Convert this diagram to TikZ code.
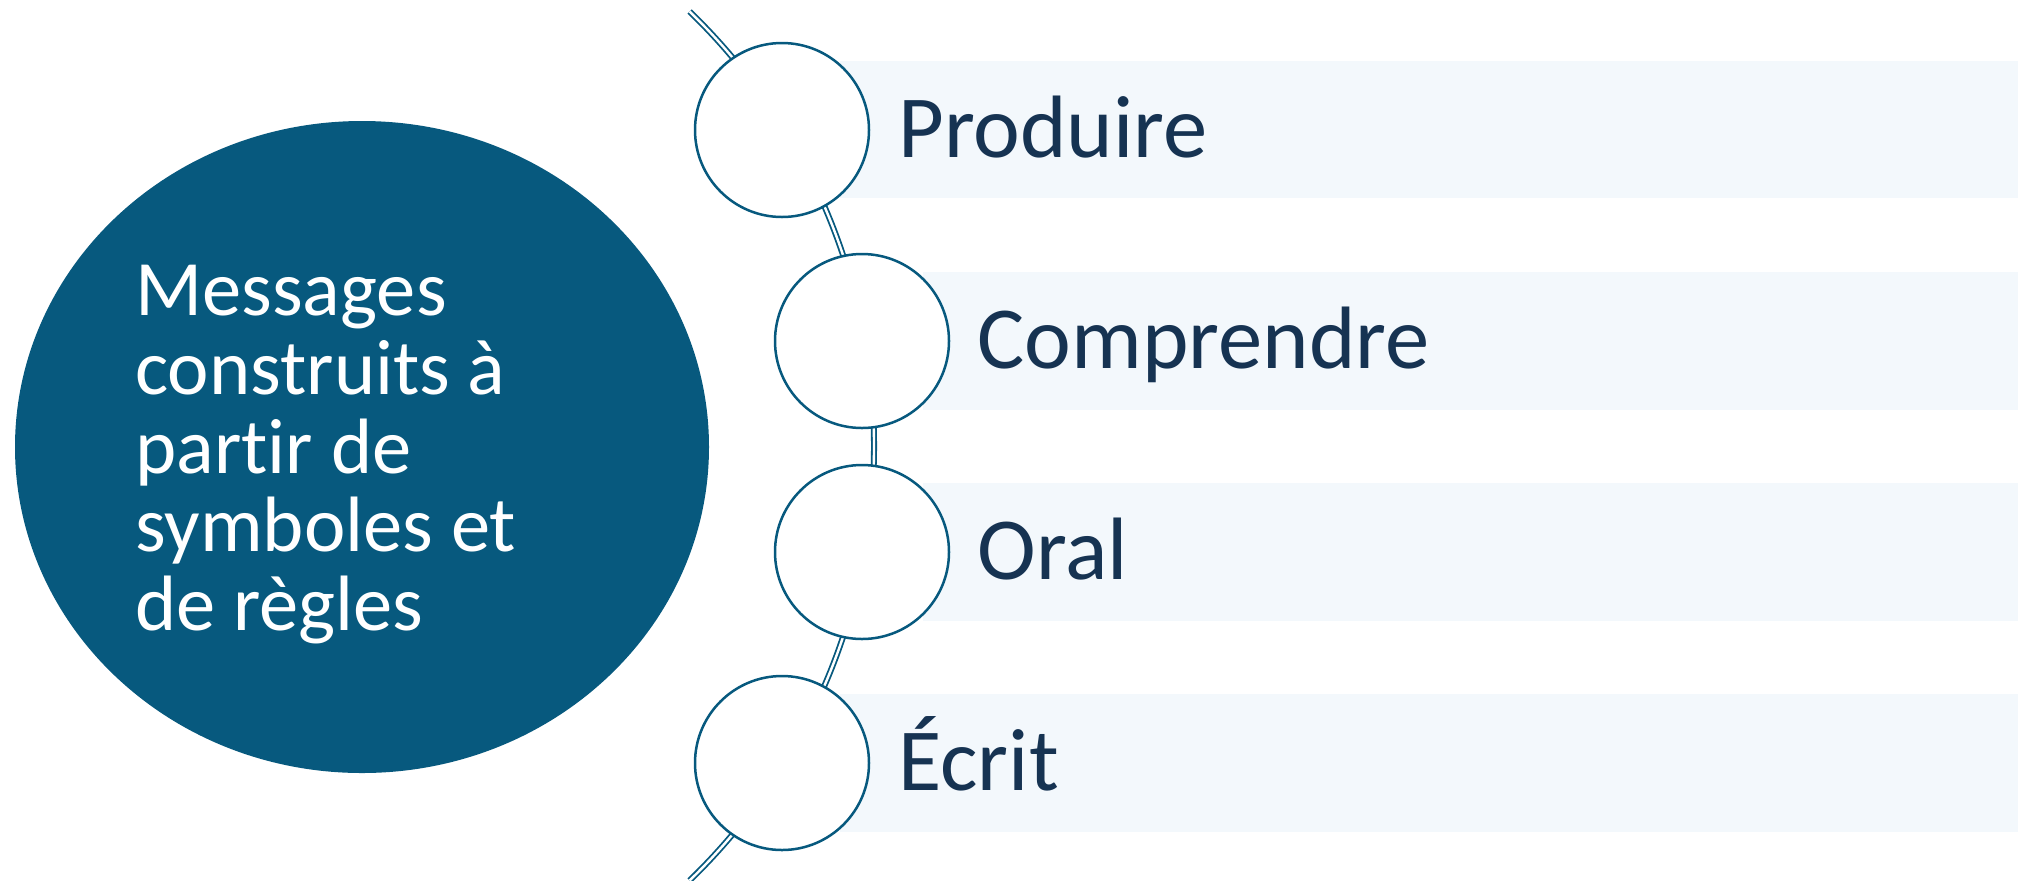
\documentclass[tikz,border=0pt]{standalone}
\usepackage{fontspec}
\setmainfont{Carlito}[RawFeature=-liga]
\usetikzlibrary{shapes.geometric}
\definecolor{mainblue}{RGB}{7,89,126}
\definecolor{navytext}{RGB}{22,51,82}
\definecolor{bandfill}{RGB}{243,248,252}
\tikzset{
  band/.style={fill=bandfill},
  bead/.style={circle,draw=mainblue,line width=1.25pt,fill=white,minimum size=87pt,inner sep=0pt},
  bigell/.style={ellipse,fill=mainblue,minimum width=347pt,minimum height=326pt,inner sep=0pt},
  arcline/.style={draw=mainblue,line width=0.9pt,double=white,double distance=1.2pt},
  lbl/.style={anchor=base west,inner sep=0pt,text=navytext,font=\fontsize{44.3pt}{50pt}\selectfont},
  ctext/.style={anchor=north west,inner sep=0pt,text=white,align=left,font=\fontsize{39.25pt}{39.35pt}\selectfont}
}
\begin{document}
\begin{tikzpicture}[x=0.5pt,y=-0.5pt]
\useasboundingbox (0,0) rectangle (2018,880);
% bands
\fill[band] (840,61) rectangle (2018,198);
\fill[band] (923,272) rectangle (2018,410);
\fill[band] (923,483) rectangle (2018,621);
\fill[band] (840,694) rectangle (2018,832);
% big ellipse
\node[bigell] (msg) at (362,447) {};
\node[ctext] (msgtext) at (135,265) {Messages\\construits à\\partir de\\symboles et\\de règles};
% arc connector
\coordinate (arcC) at (270,446);
\draw[arcline] (arcC) ++(46:302pt) arc[start angle=46,end angle=-46,radius=302pt];
% beads
\node[bead] (c1) at (782,130) {};
\node[bead] (c2) at (862,341) {};
\node[bead] (c3) at (862,552) {};
\node[bead] (c4) at (782,763) {};
% labels
\node[lbl] (l1) at (898,157) {Produire};
\node[lbl] (l2) at (977,368) {Comprendre};
\node[lbl] (l3) at (977,579) {Oral};
\node[lbl] (l4) at (898,790) {Écrit};
\end{tikzpicture}
\end{document}
